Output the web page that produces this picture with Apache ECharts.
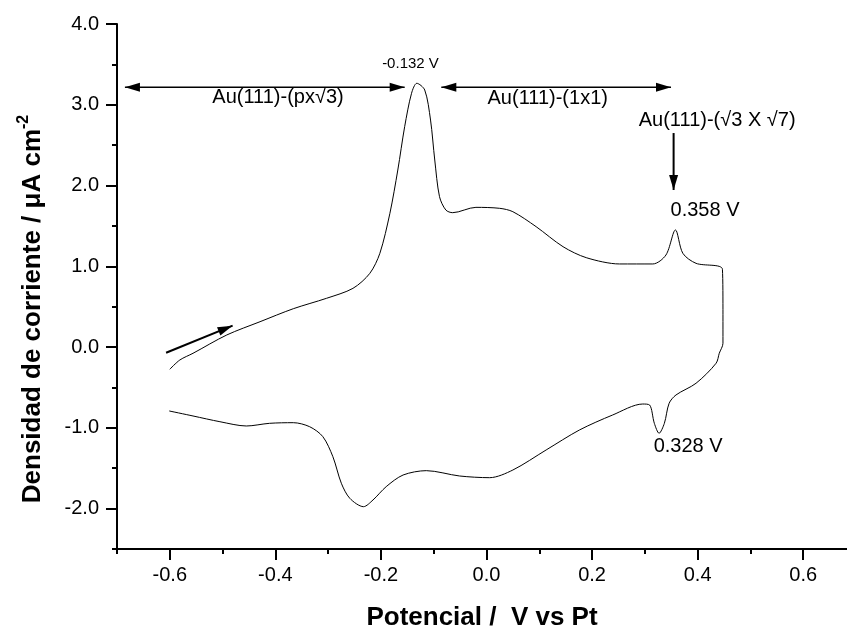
<!DOCTYPE html>
<html>
<head>
<meta charset="utf-8">
<script src="https://cdn.jsdelivr.net/npm/echarts@6/dist/echarts.min.js"></script>
<style>
  html, body { margin: 0; padding: 0; background: #fff; }
  #voltamograma { width: 847px; height: 631px; }
</style>
</head>
<body>
<div id="voltamograma"></div>
<script>
// barrido anodico (ida) y catodico (vuelta)
const potencialIda = [-0.600, -0.581, -0.556, -0.492, -0.429, -0.366, -0.303, -0.253, -0.221, -0.202,
  -0.183, -0.168, -0.155, -0.142, -0.132, -0.117, -0.106, -0.098, -0.089, -0.077, -0.064, -0.020,
  0.025, 0.050, 0.094, 0.145, 0.189, 0.252, 0.315, 0.340, 0.358, 0.372, 0.397, 0.447];
const corrienteIda = [-0.275, -0.160, -0.077, 0.150, 0.314, 0.475, 0.604, 0.727, 0.913, 1.161,
  1.656, 2.192, 2.729, 3.142, 3.266, 3.183, 2.811, 2.316, 1.862, 1.697, 1.664, 1.730,
  1.718, 1.676, 1.491, 1.243, 1.107, 1.029, 1.029, 1.140, 1.450, 1.161, 1.037, 0.963];

const potencialVuelta = [0.448, 0.448, 0.441, 0.435, 0.397, 0.359, 0.346, 0.337, 0.327, 0.318, 0.309,
  0.296, 0.239, 0.176, 0.113, 0.050, 0.006, -0.051, -0.114, -0.158, -0.190, -0.215, -0.233,
  -0.259, -0.275, -0.291, -0.310, -0.335, -0.366, -0.411, -0.455, -0.505, -0.556, -0.601];
const corrienteVuelta = [0.400, 0.047, -0.077, -0.200, -0.448, -0.593, -0.696, -0.944, -1.067, -0.944, -0.717,
  -0.705, -0.841, -1.027, -1.274, -1.522, -1.617, -1.596, -1.530, -1.584, -1.728, -1.893, -1.976,
  -1.872, -1.686, -1.357, -1.109, -0.986, -0.936, -0.944, -0.977, -0.924, -0.853, -0.791];

const xMajorTicks = [-0.6, -0.4, -0.2, 0, 0.2, 0.4, 0.6];
const xMinorTicks = [-0.7, -0.5, -0.3, -0.1, 0.1, 0.3, 0.5];
const yMajorTicks = [-2, -1, 0, 1, 2, 3, 4];
const yMinorTicks = [-2.5, -1.5, -0.5, 0.5, 1.5, 2.5, 3.5];

// anotaciones: textos y flechas en coordenadas de datos
const notaTexto = ["-0.132 V", "Au(111)-(px\u221A3)", "Au(111)-(1x1)", "Au(111)-(\u221A3 X \u221A7)", "0.358 V", "0.328 V"];
const notaV = [-0.144, -0.395, 0.116, 0.437, 0.414, 0.382];
const notaJ = [3.505, 3.090, 3.075, 2.800, 1.691, -1.225];
const notaSize = [15, 20, 20, 20, 20, 20];

// [v1, j1, v2, j2, doble punta]
const flechas = [
  [-0.685, 3.216, -0.155, 3.216, 1],
  [-0.0856, 3.216, 0.3496, 3.216, 1],
  [0.3545, 2.65, 0.3545, 1.945, 0],
  [-0.607, -0.07, -0.481, 0.265, 0]
];

const FONT = "'Liberation Sans', Arial, Helvetica, sans-serif";

const curva = [];
potencialIda.forEach((v, i) => curva.push([v, corrienteIda[i]]));
potencialVuelta.forEach((v, i) => curva.push([v, corrienteVuelta[i]]));

const chart = echarts.init(document.getElementById("voltamograma"));

function punta(tip, from, len, half) {
  const dx = tip[0] - from[0], dy = tip[1] - from[1];
  const d = Math.sqrt(dx * dx + dy * dy) || 1;
  const ux = dx / d, uy = dy / d;
  const bx = tip[0] - ux * len, by = tip[1] - uy * len;
  return [[tip[0], tip[1]], [bx - uy * half, by + ux * half], [bx + uy * half, by - ux * half]];
}

const axisBase = {
  type: "value",
  axisLine: { show: true, onZero: false, lineStyle: { color: "#000", width: 2 } },
  splitLine: { show: false }
};

const option = {
  animation: false,
  backgroundColor: "#fff",
  grid: { left: 117, right: 0, top: 24, bottom: 82, outerBoundsMode: "none", containLabel: false },
  xAxis: [
    Object.assign({}, axisBase, {
      position: "bottom",
      min: -0.7, max: 0.683,
      axisTick: { show: true, inside: false, length: 11, lineStyle: { color: "#000", width: 2 }, customValues: xMajorTicks },
      axisLabel: { customValues: xMajorTicks, margin: 16, color: "#000", fontSize: 20, fontFamily: FONT,
        formatter: (v) => v.toFixed(1) },
      name: "Potencial /  V vs Pt",
      nameLocation: "middle",
      nameGap: 56,
      nameTextStyle: { fontSize: 26, fontWeight: "bold", color: "#000", fontFamily: FONT }
    }),
    Object.assign({}, axisBase, {
      position: "bottom",
      min: -0.7, max: 0.683,
      axisLine: { show: false, onZero: false },
      axisTick: { show: true, length: 5, lineStyle: { color: "#000", width: 2 }, customValues: xMinorTicks },
      axisLabel: { show: false }
    })
  ],
  yAxis: [
    Object.assign({}, axisBase, {
      position: "left",
      min: -2.5, max: 4,
      axisTick: { show: true, length: 11, lineStyle: { color: "#000", width: 2 }, customValues: yMajorTicks },
      axisLabel: { customValues: yMajorTicks, margin: 18, color: "#000", fontSize: 20, fontFamily: FONT,
        formatter: (v) => v.toFixed(1) }
    }),
    Object.assign({}, axisBase, {
      position: "left",
      min: -2.5, max: 4,
      axisLine: { show: false, onZero: false },
      axisTick: { show: true, length: 5, lineStyle: { color: "#000", width: 2 }, customValues: yMinorTicks },
      axisLabel: { show: false }
    })
  ],
  graphic: [{
    type: "text",
    x: 31, y: 309,
    rotation: Math.PI / 2,
    style: {
      text: "{t|Densidad de corriente / \u03BCA cm}{s|-2}",
      align: "center",
      verticalAlign: "middle",
      rich: {
        t: { fontSize: 26, fontWeight: "bold", fontFamily: FONT, fill: "#000", lineHeight: 30, verticalAlign: "bottom" },
        s: { fontSize: 16, fontWeight: "bold", fontFamily: FONT, fill: "#000", lineHeight: 30, verticalAlign: "top", padding: [0, 0, 12, 0] }
      }
    }
  }],
  series: [
    {
      type: "line",
      data: curva,
      showSymbol: false,
      smooth: 0.3,
      lineStyle: { color: "#000", width: 1 },
      silent: true,
      z: 3
    },
    {
      type: "custom",
      clip: false,
      silent: true,
      data: flechas,
      renderItem: (params, api) => {
        const p1 = api.coord([api.value(0), api.value(1)]);
        const p2 = api.coord([api.value(2), api.value(3)]);
        const doble = api.value(4) === 1;
        const children = [
          { type: "line", shape: { x1: p1[0], y1: p1[1], x2: p2[0], y2: p2[1] },
            style: { stroke: "#000", lineWidth: doble ? 1.5 : 2 } },
          { type: "polygon", shape: { points: punta(p2, p1, 15, 4.5) }, style: { fill: "#000" } }
        ];
        if (doble) {
          children.push({ type: "polygon", shape: { points: punta(p1, p2, 15, 4.5) }, style: { fill: "#000" } });
        }
        return { type: "group", children: children };
      },
      z: 4
    },
    {
      type: "custom",
      clip: false,
      silent: true,
      data: notaV.map((v, i) => [v, notaJ[i], i]),
      renderItem: (params, api) => {
        const p = api.coord([api.value(0), api.value(1)]);
        const i = api.value(2);
        return {
          type: "text",
          x: p[0], y: p[1],
          style: { text: notaTexto[i], fontSize: notaSize[i], fontFamily: FONT, fill: "#000",
            align: "center", verticalAlign: "middle" }
        };
      },
      z: 5
    }
  ]
};

chart.setOption(option);
</script>
</body>
</html>
